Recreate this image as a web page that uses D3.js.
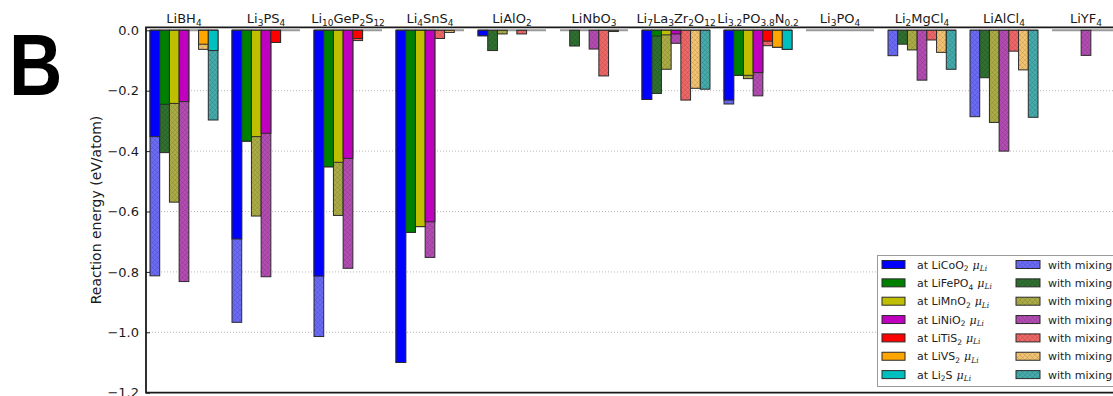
<!DOCTYPE html>
<html>
<head>
<meta charset="utf-8">
<script src="https://cdn.jsdelivr.net/npm/d3@7"></script>
<style>
  html, body { margin: 0; padding: 0; background: #fff; }
  svg { display: block; font-family: "DejaVu Sans", sans-serif; }
</style>
</head>
<body>
<svg id="chart" width="1113" height="396"></svg>
<script>
// Electrolyte families along the x axis
const electrolytes = ['LiBH4', 'Li3PS4', 'Li10GeP2S12', 'Li4SnS4', 'LiAlO2', 'LiNbO3',
  'Li7La3Zr2O12', 'Li3.2PO3.8N0.2', 'Li3PO4', 'Li2MgCl4', 'LiAlCl4', 'LiYF4'];

// Electrode whose Li chemical potential is applied
const electrodes = ['LiCoO2', 'LiFePO4', 'LiMnO2', 'LiNiO2', 'LiTiS2', 'LiVS2', 'Li2S'];

// Reaction energy (eV/atom) at the electrode's Li chemical potential
const atLiCoO2  = [-0.352, -0.691, -0.814, -1.100, -0.018, 0, -0.229, -0.231, 0, 0, 0, 0];
const atLiFePO4 = [-0.245, -0.367, -0.452, -0.669, 0, 0, -0.019, -0.149, 0, 0, 0, 0];
const atLiMnO2  = [-0.242, -0.352, -0.437, -0.650, 0, 0, -0.015, -0.149, 0, 0, 0, 0];
const atLiNiO2  = [-0.236, -0.341, -0.424, -0.634, 0, 0, -0.012, -0.140, 0, 0, 0, 0];
const atLiTiS2  = [0, -0.040, -0.027, 0, 0, 0, 0, -0.036, 0, 0, 0, 0];
const atLiVS2   = [-0.046, 0, 0, 0, 0, 0, 0, -0.056, 0, 0, 0, 0];
const atLi2S    = [-0.067, 0, 0, 0, 0, 0, 0, -0.063, 0, 0, 0, 0];

// Reaction energy (eV/atom) including mixing with the electrode
const mixLiCoO2  = [-0.813, -0.967, -1.014, -1.100, -0.018, 0, -0.229, -0.244, 0, -0.084, -0.286, 0];
const mixLiFePO4 = [-0.405, -0.367, -0.452, -0.669, -0.067, -0.052, -0.209, -0.149, 0, -0.046, -0.157, 0];
const mixLiMnO2  = [-0.569, -0.615, -0.613, -0.650, -0.012, 0, -0.129, -0.160, 0, -0.065, -0.305, 0];
const mixLiNiO2  = [-0.832, -0.816, -0.788, -0.752, 0, -0.062, -0.043, -0.217, 0, -0.165, -0.400, -0.083];
const mixLiTiS2  = [0, -0.040, -0.034, -0.027, -0.012, -0.151, -0.231, -0.051, 0, -0.032, -0.069, 0];
const mixLiVS2   = [-0.063, 0, 0, -0.007, 0, -0.004, -0.192, -0.056, 0, -0.073, -0.131, 0];
const mixLi2S    = [-0.297, 0, 0, 0, 0, 0, -0.195, -0.063, 0, -0.129, -0.288, 0];

const yTicks = [0.0, -0.2, -0.4, -0.6, -0.8, -1.0, -1.2];

const atValues  = [atLiCoO2, atLiFePO4, atLiMnO2, atLiNiO2, atLiTiS2, atLiVS2, atLi2S];
const mixValues = [mixLiCoO2, mixLiFePO4, mixLiMnO2, mixLiNiO2, mixLiTiS2, mixLiVS2, mixLi2S];

// Colours
const solidColors = ['#0000ff', '#008000', '#bfbf00', '#bf00bf', '#ff0000', '#ffa500', '#00bfbf'];
const mixColors   = ['#6a6af4', '#2f6f2f', '#abab46', '#b24cb2', '#ee6767', '#f1c26f', '#44aaaa'];

const svg = d3.select('#chart');
const plotLeft = 146, plotTop = 27.3, plotBottom = 392.7;

const x = d3.scaleBand()
  .domain(electrolytes)
  .range([plotLeft, plotLeft + 978])
  .paddingInner(14 / 82)
  .paddingOuter(4 / 82);

const xs = d3.scaleBand()
  .domain(electrodes)
  .range([0, x.bandwidth()]);

const y = d3.scaleLinear()
  .domain([0.01, -1.2])
  .range([plotTop, plotBottom]);

// Hatched fills for the mixing bars
const defs = svg.append('defs');
electrodes.forEach((e, i) => {
  const p = defs.append('pattern')
    .attr('id', 'hatch' + i)
    .attr('patternUnits', 'userSpaceOnUse')
    .attr('width', 5).attr('height', 5);
  p.append('rect').attr('width', 5).attr('height', 5).attr('fill', mixColors[i]);
  p.append('path')
    .attr('d', 'M0,0L5,5M5,0L0,5M-1,4L1,6M4,-1L6,1')
    .attr('stroke', 'rgba(0,0,0,0.15)')
    .attr('stroke-width', 0.7);
});

// Formula text with numeric subscripts
function formula(sel, text, size, subSize) {
  const parts = text.split(/(\d+(?:\.\d+)?)/).filter(s => s.length);
  let sub = false;
  parts.forEach(part => {
    const isNum = /^\d/.test(part);
    const t = sel.append('tspan').text(part);
    if (isNum && !sub) { t.attr('dy', size * 0.25).attr('font-size', subSize); sub = true; }
    else if (!isNum && sub) { t.attr('dy', -size * 0.25).attr('font-size', size); sub = false; }
    else if (isNum) { t.attr('font-size', subSize); }
  });
}

// Horizontal dotted grid
svg.append('g')
  .selectAll('line')
  .data(yTicks.filter(v => v < 0 && v > -1.2))
  .join('line')
  .attr('x1', plotLeft).attr('x2', 1113)
  .attr('y1', d => y(d)).attr('y2', d => y(d))
  .attr('stroke', '#b8b8b8')
  .attr('stroke-width', 1)
  .attr('stroke-dasharray', '1,2');

// Zero baseline per electrolyte
svg.append('g')
  .selectAll('line')
  .data(electrolytes)
  .join('line')
  .attr('x1', d => x(d)).attr('x2', d => x(d) + x.bandwidth())
  .attr('y1', y(0)).attr('y2', y(0))
  .attr('stroke', '#9a9a9a')
  .attr('stroke-width', 2);

// Bars: mixing behind, chemical-potential bars on top
const barData = [];
electrodes.forEach((e, j) => {
  electrolytes.forEach((c, i) => {
    barData.push({ c, e, j, at: atValues[j][i], mix: mixValues[j][i] });
  });
});

const bars = svg.append('g');
bars.selectAll('rect.mix')
  .data(barData.filter(d => d.mix < 0))
  .join('rect')
  .attr('class', 'mix')
  .attr('x', d => x(d.c) + xs(d.e))
  .attr('width', xs.bandwidth())
  .attr('y', y(0))
  .attr('height', d => y(d.mix) - y(0))
  .attr('fill', d => `url(#hatch${d.j})`)
  .attr('stroke', '#2a2a2a')
  .attr('stroke-width', 1);

bars.selectAll('rect.at')
  .data(barData.filter(d => d.at < 0))
  .join('rect')
  .attr('class', 'at')
  .attr('x', d => x(d.c) + xs(d.e))
  .attr('width', xs.bandwidth())
  .attr('y', y(0))
  .attr('height', d => y(d.at) - y(0))
  .attr('fill', d => solidColors[d.j])
  .attr('stroke', '#2a2a2a')
  .attr('stroke-width', 1);

// Y axis with inward ticks
const yAxis = d3.axisLeft(y)
  .tickValues(yTicks)
  .tickFormat(d3.format('.1f'))
  .tickSize(-4)
  .tickPadding(7);

const ya = svg.append('g')
  .attr('transform', `translate(${plotLeft},0)`)
  .call(yAxis);
ya.select('.domain').remove();
ya.selectAll('.tick line').attr('stroke', '#222').attr('stroke-width', 1);
ya.selectAll('.tick text')
  .attr('font-size', 13)
  .attr('font-family', '"DejaVu Sans", sans-serif')
  .attr('fill', '#1a1a1a');

// Frame
svg.append('path')
  .attr('d', `M1113,${plotTop}H${plotLeft}V${plotBottom}H1113`)
  .attr('fill', 'none')
  .attr('stroke', '#1a1a1a')
  .attr('stroke-width', 1.8);

// Electrolyte names along the top
svg.append('g')
  .selectAll('text')
  .data(electrolytes)
  .join('text')
  .attr('x', d => x(d) + x.bandwidth() / 2)
  .attr('y', 22.5)
  .attr('text-anchor', 'middle')
  .attr('font-size', 13)
  .attr('fill', '#1a1a1a')
  .each(function (d) { formula(d3.select(this), d, 13, 9); });

// Y axis title
svg.append('text')
  .attr('transform', `translate(101,${(plotTop + plotBottom) / 2}) rotate(-90)`)
  .attr('text-anchor', 'middle')
  .attr('font-size', 14)
  .attr('fill', '#1a1a1a')
  .text('Reaction energy (eV/atom)');

// Panel letter
svg.append('text')
  .attr('transform', 'translate(9,95) scale(0.84,1)')
  .attr('font-family', '"Liberation Sans", Arial, sans-serif')
  .attr('font-weight', 'bold')
  .attr('font-size', 88)
  .attr('fill', '#000')
  .text('B');

// Legend
const lg = svg.append('g');
lg.append('rect')
  .attr('x', 877.5).attr('y', 255.5)
  .attr('width', 300).attr('height', 131)
  .attr('fill', '#fff')
  .attr('stroke', '#9a9a9a')
  .attr('stroke-width', 1);

const rowY = i => 264.5 + i * 18.35;
electrodes.forEach((e, i) => {
  lg.append('rect')
    .attr('x', 882).attr('y', rowY(i) - 4)
    .attr('width', 23).attr('height', 8)
    .attr('fill', solidColors[i])
    .attr('stroke', '#2a2a2a').attr('stroke-width', 1);
  const t = lg.append('text')
    .attr('x', 917).attr('y', rowY(i) + 4)
    .attr('font-size', 11)
    .attr('fill', '#222');
  t.append('tspan').text('at ');
  formula(t, e, 11, 7.5);
  const mu = t.append('tspan')
    .attr('font-family', '"DejaVu Serif", serif')
    .attr('font-style', 'italic');
  mu.append('tspan').attr('dx', 4).attr('font-size', 11).attr('dy', /\d$/.test(e) ? -2.75 : 0).text('μ');
  mu.append('tspan').attr('font-size', 7.5).attr('dy', 2.5).text('Li');

  lg.append('rect')
    .attr('x', 1016).attr('y', rowY(i) - 4)
    .attr('width', 24).attr('height', 8)
    .attr('fill', `url(#hatch${i})`)
    .attr('stroke', '#2a2a2a').attr('stroke-width', 1);
  lg.append('text')
    .attr('x', 1048).attr('y', rowY(i) + 4)
    .attr('font-size', 11)
    .attr('fill', '#222')
    .text('with mixing');
});
</script>
</body>
</html>
